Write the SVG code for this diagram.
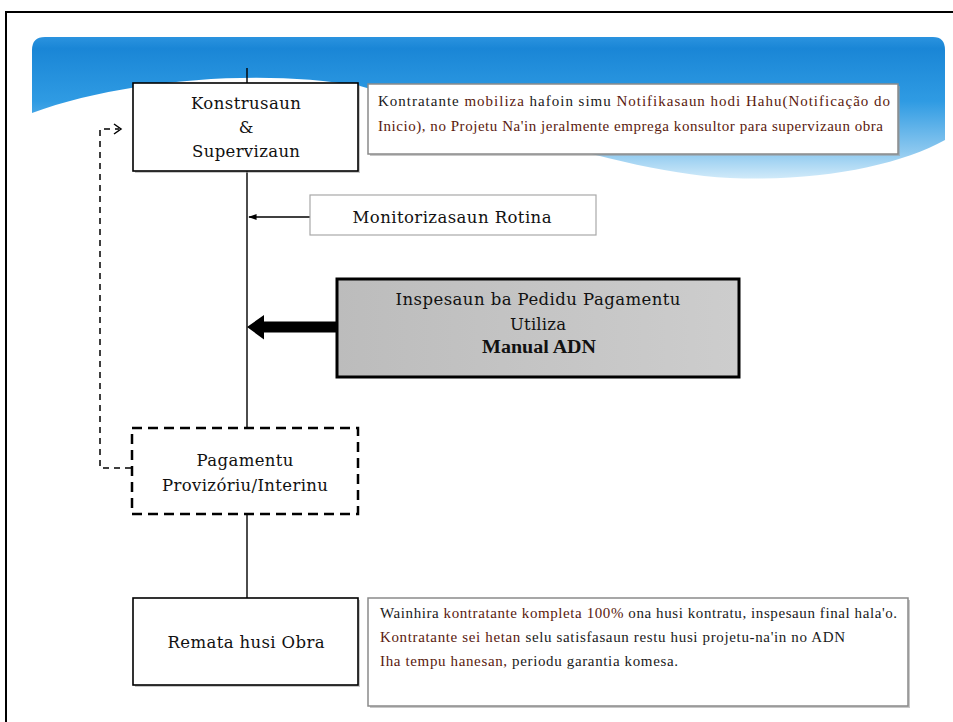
<svg xmlns="http://www.w3.org/2000/svg" width="953" height="722" viewBox="0 0 953 722">
  <style>
    .lbl { font-family: "DejaVu Serif", "Liberation Serif", serif; font-size: 16.5px; fill: #111; text-anchor: middle; }
    .note { font-family: "Liberation Serif", "Times New Roman", serif; font-size: 15px; fill: #5a1a0e; }
    .dark { fill: #1a1a1a; }
    .box { fill: #fff; stroke: #000; stroke-width: 1.6; }
    .notebox { fill: #fff; stroke: #8a8a8a; stroke-width: 1.5; }
    .shadow { fill: #9a9a9a; opacity: 0.55; }
    .line { fill: none; stroke: #000; stroke-width: 1.4; }
  </style>
  <defs>
    <linearGradient id="sky" x1="0" y1="37" x2="0" y2="180" gradientUnits="userSpaceOnUse">
      <stop offset="0" stop-color="#2b93df"/>
      <stop offset="0.08" stop-color="#1a86d6"/>
      <stop offset="0.45" stop-color="#2f9be3"/>
      <stop offset="0.8" stop-color="#8cc8ef"/>
      <stop offset="1" stop-color="#d4ecfa"/>
    </linearGradient>
    <linearGradient id="grayFill" x1="0" y1="0" x2="1" y2="0">
      <stop offset="0" stop-color="#bcbcbc"/>
      <stop offset="1" stop-color="#cdcdcd"/>
    </linearGradient>
    <marker id="smallHead" viewBox="0 0 10 10" refX="9" refY="5" markerWidth="6" markerHeight="6" orient="auto">
      <path d="M0,1.5 L10,5 L0,8.5 Z" fill="#000"/>
    </marker>
  </defs>

  <rect width="953" height="722" fill="#fff"/>

  <!-- page frame -->
  <path d="M6,722 V12 H953" fill="none" stroke="#000" stroke-width="2"/>

  <!-- header banner with wavy lower edge -->
  <path d="M32,50 Q32,37 45,37 H933 Q945,37 945,50 V140
           C900,165 820,182 730,178 C620,172 490,122 360,86
           C260,68 120,80 32,113 Z" fill="url(#sky)"/>

  <!-- connectors -->
  <g id="connectors">
    <line class="line" x1="247" y1="68" x2="247" y2="84"/>
    <line class="line" x1="247" y1="171" x2="247" y2="428"/>
    <line class="line" x1="247" y1="514" x2="247" y2="598"/>
    <line class="line" x1="310" y1="217" x2="249" y2="217" marker-end="url(#smallHead)"/>
    <path d="M337,321.5 H264 V315 L247,327 L264,339.5 V332.5 H337 Z" fill="#000"/>
    <path d="M131,468 H100 V129 H119" fill="none" stroke="#000" stroke-width="1.5" stroke-dasharray="6,5"/>
    <polyline points="114,124 121,129 114,134" fill="none" stroke="#000" stroke-width="1.5"/>
  </g>

  <!-- Konstrusaun & Supervizaun -->
  <g id="node-konstrusaun">
    <rect class="shadow" x="135" y="85" width="225" height="88"/>
    <rect class="box" x="133" y="83" width="225" height="88"/>
    <text class="lbl" x="246" y="109" textLength="110" lengthAdjust="spacing">Konstrusaun</text>
    <text class="lbl" x="246" y="133">&amp;</text>
    <text class="lbl" x="246" y="157" textLength="108" lengthAdjust="spacing">Supervizaun</text>
  </g>

  <!-- notice beside construction step -->
  <g id="note-notifikasaun">
    <rect class="shadow" x="370" y="86" width="530" height="70"/>
    <rect class="notebox" x="368" y="84" width="530" height="70"/>
    <text class="note" x="378" y="106" textLength="512" lengthAdjust="spacing"><tspan class="dark">Kontratante</tspan> mobiliza <tspan class="dark">hafoin simu</tspan> Notifikasaun hodi Hahu(Notificação do</text>
    <text class="note" x="378" y="131" textLength="505" lengthAdjust="spacing">Inicio), no Projetu Na'in jeralmente emprega konsultor para supervizaun obra</text>
  </g>

  <!-- Monitorizasaun Rotina -->
  <g id="node-monitorizasaun">
    <rect x="310" y="195" width="286" height="40" fill="#fff" stroke="#a8a8a8" stroke-width="1.2"/>
    <text class="lbl" x="452" y="223" textLength="199" lengthAdjust="spacing">Monitorizasaun Rotina</text>
  </g>

  <!-- Inspesaun ba Pedidu Pagamentu -->
  <g id="node-inspesaun">
    <rect x="337" y="279" width="402" height="98" fill="url(#grayFill)" stroke="#000" stroke-width="3"/>
    <text class="lbl" x="538" y="305" textLength="285" lengthAdjust="spacing">Inspesaun ba Pedidu Pagamentu</text>
    <text class="lbl" x="538" y="330" textLength="56" lengthAdjust="spacing">Utiliza</text>
    <text class="lbl" x="539" y="353" textLength="114" lengthAdjust="spacingAndGlyphs" style="font-family:'Liberation Serif','Times New Roman',serif;font-weight:bold;font-size:18px">Manual ADN</text>
  </g>

  <!-- Pagamentu Provizóriu/Interinu -->
  <g id="node-pagamentu">
    <rect x="132" y="428" width="226" height="86" fill="#fff" stroke="#000" stroke-width="2.5" stroke-dasharray="10,6"/>
    <text class="lbl" x="245" y="466" textLength="97" lengthAdjust="spacing">Pagamentu</text>
    <text class="lbl" x="245" y="491" textLength="166" lengthAdjust="spacing">Provizóriu/Interinu</text>
  </g>

  <!-- Remata husi Obra -->
  <g id="node-remata">
    <rect class="shadow" x="135" y="600" width="225" height="87"/>
    <rect class="box" x="133" y="598" width="225" height="87"/>
    <text class="lbl" x="246" y="648" textLength="157" lengthAdjust="spacing">Remata husi Obra</text>
  </g>

  <!-- notice beside completion step -->
  <g id="note-remata">
    <rect class="shadow" x="370" y="600" width="540" height="108"/>
    <rect class="notebox" x="368" y="598" width="540" height="108"/>
    <text class="note" x="380" y="618" textLength="517" lengthAdjust="spacing"><tspan class="dark">Wainhira</tspan> kontratante kompleta 100% <tspan class="dark">ona husi kontratu, inspesaun final hala'o.</tspan></text>
    <text class="note" x="380" y="642" textLength="465" lengthAdjust="spacing">Kontratante sei hetan <tspan class="dark">selu satisfasaun restu husi projetu-na'in no ADN</tspan></text>
    <text class="note" x="380" y="666" textLength="298" lengthAdjust="spacing">Iha tempu hanesan, <tspan class="dark">periodu garantia komesa.</tspan></text>
  </g>
</svg>
